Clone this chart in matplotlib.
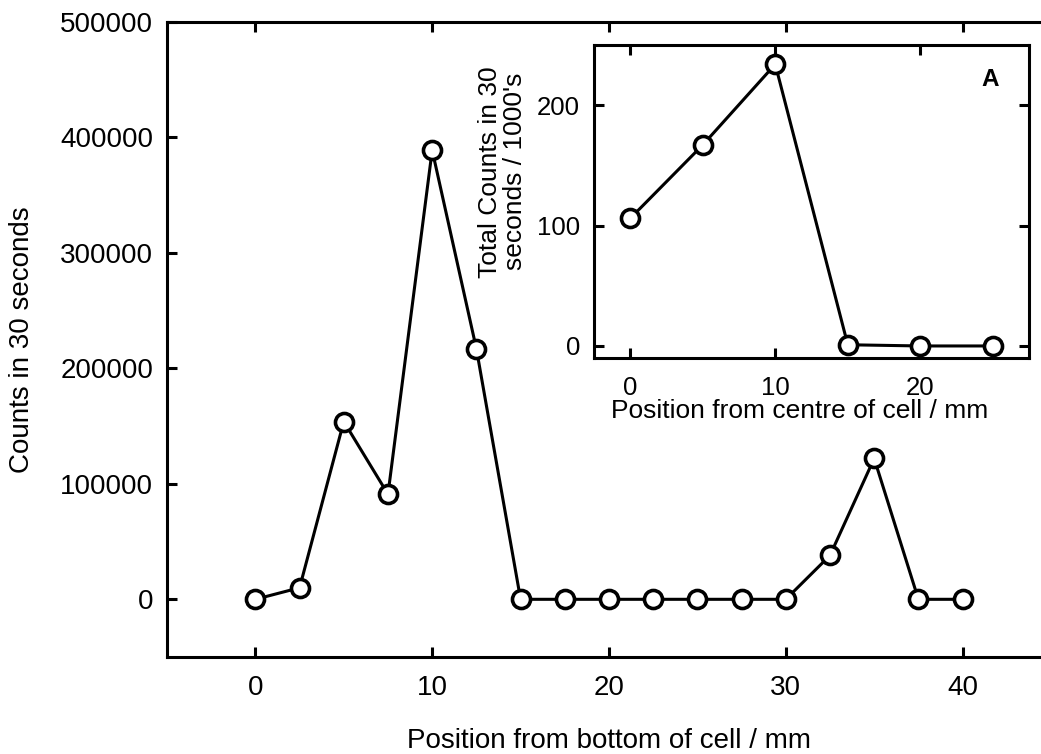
import matplotlib
matplotlib.use("Agg")
import matplotlib.pyplot as plt

plt.rcParams["font.family"] = ["Liberation Sans", "DejaVu Sans"]

# main series: counts vs position from bottom of cell
pos_bottom = [0, 2.5, 5, 7.5, 10, 12.5, 15, 17.5, 20, 22.5, 25, 27.5, 30, 32.5, 35, 37.5, 40]
counts = [0, 10000, 154000, 91000, 389000, 217000, 0, 0, 0, 0, 0, 0, 0, 38000, 122000, 0, 0]

# inset series: total counts (1000's) vs position from centre
pos_centre = [0, 5, 10, 15, 20, 25]
total_k = [106, 167, 234, 1, 0, 0]

LW = 2.2
MS = 13

fig = plt.figure(figsize=(10.41, 7.54), dpi=100)

ax = fig.add_axes([0.1604, 0.1286, 0.8492, 0.8422])
ax.plot(pos_bottom, counts, "-o", color="black", lw=LW, ms=MS,
        mfc="white", mec="black", mew=2.6, clip_on=False, zorder=3)
ax.set_xlim(-5, 45)
ax.set_ylim(-50000, 500000)
ax.set_xticks([0, 10, 20, 30, 40])
ax.set_yticks([0, 100000, 200000, 300000, 400000, 500000])
ax.tick_params(axis="both", direction="in", length=7, width=2.2,
               top=True, right=True, labelsize=20)
ax.tick_params(axis="x", pad=13)
ax.tick_params(axis="y", pad=10)
for sp in ax.spines.values():
    sp.set_linewidth(2.2)
ax.set_xlabel("Position from bottom of cell / mm", fontsize=20, labelpad=19.5)
ax.set_ylabel("Counts in 30 seconds", fontsize=20, labelpad=18)

ins = fig.add_axes([0.5706, 0.5252, 0.4179, 0.4151])
ins.plot(pos_centre, total_k, "-o", color="black", lw=LW, ms=MS,
         mfc="white", mec="black", mew=2.6, clip_on=False, zorder=3)
ins.set_xlim(-2.5, 27.5)
ins.set_ylim(-10, 250)
ins.set_xticks([0, 10, 20])
ins.set_yticks([0, 100, 200])
ins.tick_params(axis="both", direction="in", length=7, width=2.2,
                top=True, right=True, labelsize=18.5)
ins.tick_params(axis="x", pad=13)
ins.tick_params(axis="y", pad=10)
for sp in ins.spines.values():
    sp.set_linewidth(2.2)
ins.set_xlabel("Position from centre of cell / mm", fontsize=19)
ins.xaxis.set_label_coords(0.472, -0.13)
ins.set_ylabel("Total Counts in 30\nseconds / 1000's", fontsize=19,
               linespacing=1.05)
ins.yaxis.set_label_coords(-0.155, 0.595)
ins.text(0.93, 0.89, "A", transform=ins.transAxes, fontsize=17.5,
         fontweight="bold", ha="right", va="center")

fig.savefig("out.png", dpi=100)
